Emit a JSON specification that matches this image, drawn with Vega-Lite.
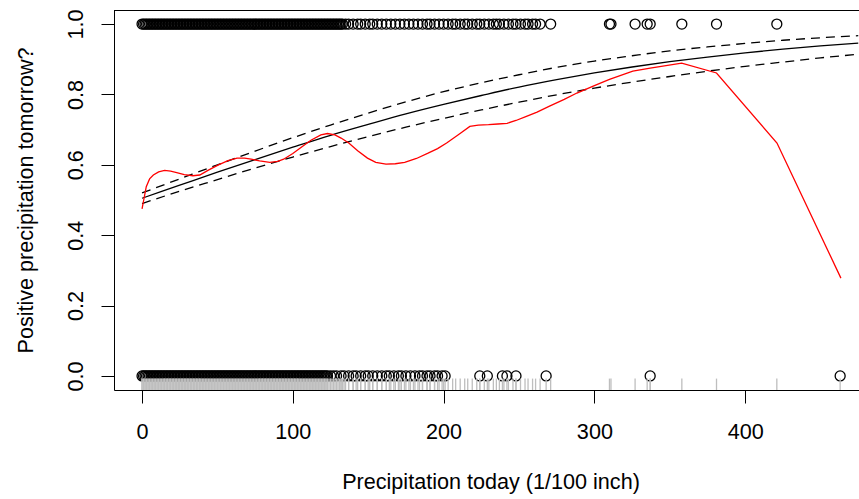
{
  "$schema": "https://vega.github.io/schema/vega-lite/v6.json",
  "width": 745,
  "height": 380,
  "autosize": {"type": "none"},
  "padding": {"left": 114, "top": 10, "right": 0, "bottom": 109},
  "background": "white",
  "datasets": {
    "pts": [
      {"x":0,"y":1},{"x":1,"y":1},{"x":2,"y":1},{"x":3,"y":1},{"x":4,"y":1},{"x":5,"y":1},{"x":6,"y":1},{"x":7,"y":1},{"x":8,"y":1},{"x":9,"y":1},
      {"x":10,"y":1},{"x":11,"y":1},{"x":12,"y":1},{"x":13,"y":1},{"x":14,"y":1},{"x":15,"y":1},{"x":16,"y":1},{"x":17,"y":1},{"x":18,"y":1},{"x":19,"y":1},
      {"x":20,"y":1},{"x":21,"y":1},{"x":22,"y":1},{"x":23,"y":1},{"x":24,"y":1},{"x":25,"y":1},{"x":26,"y":1},{"x":27,"y":1},{"x":28,"y":1},{"x":29,"y":1},
      {"x":30,"y":1},{"x":31,"y":1},{"x":32,"y":1},{"x":33,"y":1},{"x":34,"y":1},{"x":35,"y":1},{"x":36,"y":1},{"x":37,"y":1},{"x":38,"y":1},{"x":39,"y":1},
      {"x":40,"y":1},{"x":41,"y":1},{"x":42,"y":1},{"x":43,"y":1},{"x":44,"y":1},{"x":45,"y":1},{"x":46,"y":1},{"x":47,"y":1},{"x":48,"y":1},{"x":49,"y":1},
      {"x":50,"y":1},{"x":51,"y":1},{"x":52,"y":1},{"x":53,"y":1},{"x":54,"y":1},{"x":55,"y":1},{"x":56,"y":1},{"x":57,"y":1},{"x":58,"y":1},{"x":59,"y":1},
      {"x":60,"y":1},{"x":61,"y":1},{"x":62,"y":1},{"x":63,"y":1},{"x":64,"y":1},{"x":65,"y":1},{"x":66,"y":1},{"x":67,"y":1},{"x":68,"y":1},{"x":69,"y":1},
      {"x":70,"y":1},{"x":71,"y":1},{"x":72,"y":1},{"x":73,"y":1},{"x":74,"y":1},{"x":75,"y":1},{"x":76,"y":1},{"x":77,"y":1},{"x":78,"y":1},{"x":79,"y":1},
      {"x":80,"y":1},{"x":81,"y":1},{"x":82,"y":1},{"x":83,"y":1},{"x":84,"y":1},{"x":85,"y":1},{"x":86,"y":1},{"x":87,"y":1},{"x":88,"y":1},{"x":89,"y":1},
      {"x":90,"y":1},{"x":91,"y":1},{"x":92,"y":1},{"x":93,"y":1},{"x":94,"y":1},{"x":95,"y":1},{"x":96,"y":1},{"x":97,"y":1},{"x":98,"y":1},{"x":99,"y":1},
      {"x":100,"y":1},{"x":101,"y":1},{"x":102,"y":1},{"x":103,"y":1},{"x":104,"y":1},{"x":105,"y":1},{"x":106,"y":1},{"x":107,"y":1},{"x":108,"y":1},{"x":109,"y":1},
      {"x":110,"y":1},{"x":111,"y":1},{"x":112,"y":1},{"x":113,"y":1},{"x":114,"y":1},{"x":115,"y":1},{"x":116,"y":1},{"x":117,"y":1},{"x":118,"y":1},{"x":119,"y":1},
      {"x":120,"y":1},{"x":121,"y":1},{"x":122,"y":1},{"x":123,"y":1},{"x":124,"y":1},{"x":125,"y":1},{"x":126,"y":1},{"x":127,"y":1},{"x":128,"y":1},{"x":129,"y":1},
      {"x":130,"y":1},{"x":131,"y":1},{"x":132,"y":1},{"x":133,"y":1},
      {"x":135,"y":1},{"x":137,"y":1},{"x":140,"y":1},{"x":143,"y":1},{"x":145,"y":1},{"x":148,"y":1},{"x":151,"y":1},{"x":153,"y":1},{"x":156,"y":1},{"x":159,"y":1},
      {"x":162,"y":1},{"x":165,"y":1},{"x":168,"y":1},{"x":171,"y":1},{"x":174,"y":1},{"x":177,"y":1},{"x":180,"y":1},{"x":183,"y":1},{"x":186,"y":1},{"x":189,"y":1},
      {"x":191,"y":1},{"x":194,"y":1},{"x":197,"y":1},{"x":200,"y":1},{"x":203,"y":1},{"x":206,"y":1},{"x":208,"y":1},{"x":211,"y":1},{"x":214,"y":1},{"x":216,"y":1},
      {"x":219,"y":1},{"x":222,"y":1},{"x":224,"y":1},{"x":227,"y":1},{"x":230,"y":1},{"x":233,"y":1},{"x":235,"y":1},{"x":237,"y":1},{"x":240,"y":1},{"x":243,"y":1},
      {"x":246,"y":1},{"x":248,"y":1},{"x":251,"y":1},{"x":254,"y":1},{"x":256,"y":1},{"x":259,"y":1},{"x":261,"y":1},{"x":264,"y":1},{"x":271,"y":1},
      {"x":310,"y":1},{"x":311,"y":1},{"x":327,"y":1},{"x":335,"y":1},{"x":337,"y":1},{"x":358,"y":1},{"x":381,"y":1},{"x":421,"y":1},
      {"x":0,"y":0},{"x":1,"y":0},{"x":2,"y":0},{"x":3,"y":0},{"x":4,"y":0},{"x":5,"y":0},{"x":6,"y":0},{"x":7,"y":0},{"x":8,"y":0},{"x":9,"y":0},
      {"x":10,"y":0},{"x":11,"y":0},{"x":12,"y":0},{"x":13,"y":0},{"x":14,"y":0},{"x":15,"y":0},{"x":16,"y":0},{"x":17,"y":0},{"x":18,"y":0},{"x":19,"y":0},
      {"x":20,"y":0},{"x":21,"y":0},{"x":22,"y":0},{"x":23,"y":0},{"x":24,"y":0},{"x":25,"y":0},{"x":26,"y":0},{"x":27,"y":0},{"x":28,"y":0},{"x":29,"y":0},
      {"x":30,"y":0},{"x":31,"y":0},{"x":32,"y":0},{"x":33,"y":0},{"x":34,"y":0},{"x":35,"y":0},{"x":36,"y":0},{"x":37,"y":0},{"x":38,"y":0},{"x":39,"y":0},
      {"x":40,"y":0},{"x":41,"y":0},{"x":42,"y":0},{"x":43,"y":0},{"x":44,"y":0},{"x":45,"y":0},{"x":46,"y":0},{"x":47,"y":0},{"x":48,"y":0},{"x":49,"y":0},
      {"x":50,"y":0},{"x":51,"y":0},{"x":52,"y":0},{"x":53,"y":0},{"x":54,"y":0},{"x":55,"y":0},{"x":56,"y":0},{"x":57,"y":0},{"x":58,"y":0},{"x":59,"y":0},
      {"x":60,"y":0},{"x":61,"y":0},{"x":62,"y":0},{"x":63,"y":0},{"x":64,"y":0},{"x":65,"y":0},{"x":66,"y":0},{"x":67,"y":0},{"x":68,"y":0},{"x":69,"y":0},
      {"x":70,"y":0},{"x":71,"y":0},{"x":72,"y":0},{"x":73,"y":0},{"x":74,"y":0},{"x":75,"y":0},{"x":76,"y":0},{"x":77,"y":0},{"x":78,"y":0},{"x":79,"y":0},
      {"x":80,"y":0},{"x":81,"y":0},{"x":82,"y":0},{"x":83,"y":0},{"x":84,"y":0},{"x":85,"y":0},{"x":86,"y":0},{"x":87,"y":0},{"x":88,"y":0},{"x":89,"y":0},
      {"x":90,"y":0},{"x":91,"y":0},{"x":92,"y":0},{"x":93,"y":0},{"x":94,"y":0},{"x":95,"y":0},{"x":96,"y":0},{"x":97,"y":0},{"x":98,"y":0},{"x":99,"y":0},
      {"x":100,"y":0},{"x":101,"y":0},{"x":102,"y":0},{"x":103,"y":0},{"x":104,"y":0},{"x":105,"y":0},{"x":106,"y":0},{"x":107,"y":0},{"x":108,"y":0},{"x":109,"y":0},
      {"x":110,"y":0},{"x":111,"y":0},{"x":112,"y":0},{"x":113,"y":0},{"x":114,"y":0},{"x":115,"y":0},{"x":116,"y":0},{"x":117,"y":0},{"x":118,"y":0},{"x":119,"y":0},
      {"x":120,"y":0},{"x":121,"y":0},{"x":122,"y":0},{"x":123,"y":0},
      {"x":125,"y":0},{"x":127,"y":0},{"x":129,"y":0},{"x":132,"y":0},{"x":134,"y":0},{"x":137,"y":0},{"x":140,"y":0},{"x":142,"y":0},{"x":145,"y":0},{"x":148,"y":0},
      {"x":150,"y":0},{"x":153,"y":0},{"x":156,"y":0},{"x":159,"y":0},{"x":162,"y":0},{"x":164,"y":0},{"x":167,"y":0},{"x":170,"y":0},{"x":172,"y":0},{"x":175,"y":0},
      {"x":178,"y":0},{"x":181,"y":0},{"x":184,"y":0},{"x":186,"y":0},{"x":189,"y":0},{"x":191,"y":0},{"x":194,"y":0},{"x":196,"y":0},{"x":199,"y":0},{"x":201,"y":0},
      {"x":224,"y":0},{"x":229,"y":0},{"x":239,"y":0},{"x":242,"y":0},{"x":248,"y":0},{"x":268,"y":0},{"x":337,"y":0},{"x":463,"y":0}
    ],
    "fit": [
      {"x":0,"fit":0.505,"lo":0.490,"hi":0.520},
      {"x":25,"fit":0.542,"lo":0.525,"hi":0.560},
      {"x":50,"fit":0.579,"lo":0.558,"hi":0.600},
      {"x":75,"fit":0.615,"lo":0.591,"hi":0.639},
      {"x":100,"fit":0.650,"lo":0.622,"hi":0.677},
      {"x":125,"fit":0.684,"lo":0.652,"hi":0.713},
      {"x":150,"fit":0.715,"lo":0.680,"hi":0.747},
      {"x":175,"fit":0.745,"lo":0.707,"hi":0.779},
      {"x":200,"fit":0.772,"lo":0.732,"hi":0.808},
      {"x":225,"fit":0.797,"lo":0.756,"hi":0.833},
      {"x":250,"fit":0.821,"lo":0.778,"hi":0.856},
      {"x":275,"fit":0.842,"lo":0.799,"hi":0.877},
      {"x":300,"fit":0.861,"lo":0.818,"hi":0.895},
      {"x":325,"fit":0.878,"lo":0.835,"hi":0.910},
      {"x":350,"fit":0.893,"lo":0.851,"hi":0.924},
      {"x":375,"fit":0.906,"lo":0.866,"hi":0.935},
      {"x":400,"fit":0.918,"lo":0.880,"hi":0.945},
      {"x":425,"fit":0.929,"lo":0.892,"hi":0.954},
      {"x":450,"fit":0.938,"lo":0.904,"hi":0.961},
      {"x":475,"fit":0.946,"lo":0.914,"hi":0.967}
    ],
    "smooth": [
      {"x":0,"p":0.475},{"x":2.8,"p":0.538},{"x":5,"p":0.560},{"x":7.5,"p":0.571},{"x":11,"p":0.580},
      {"x":15,"p":0.584},{"x":19,"p":0.582},{"x":23,"p":0.578},{"x":28,"p":0.572},{"x":33.7,"p":0.569},
      {"x":38.3,"p":0.571},{"x":44,"p":0.585},{"x":50.7,"p":0.600},{"x":57,"p":0.612},{"x":63,"p":0.619},
      {"x":68,"p":0.619},{"x":72.3,"p":0.616},{"x":78,"p":0.611},{"x":84.7,"p":0.607},{"x":90,"p":0.610},
      {"x":93.9,"p":0.616},{"x":100,"p":0.632},{"x":106.3,"p":0.652},{"x":112,"p":0.670},{"x":118.6,"p":0.685},
      {"x":123,"p":0.689},{"x":127.9,"p":0.685},{"x":132,"p":0.676},{"x":137.1,"p":0.662},{"x":143,"p":0.640},
      {"x":149.5,"p":0.619},{"x":155,"p":0.607},{"x":161.8,"p":0.602},{"x":168,"p":0.603},{"x":174.2,"p":0.607},
      {"x":182,"p":0.618},{"x":189.7,"p":0.633},{"x":196,"p":0.646},{"x":202,"p":0.662},{"x":210,"p":0.686},
      {"x":217.4,"p":0.709},{"x":223,"p":0.713},{"x":229.8,"p":0.714},{"x":236,"p":0.716},{"x":242.1,"p":0.718},
      {"x":248,"p":0.726},{"x":254.5,"p":0.737},{"x":262,"p":0.750},{"x":269.9,"p":0.766},{"x":280,"p":0.786},
      {"x":288.4,"p":0.804},{"x":300,"p":0.825},{"x":310,"p":0.843},{"x":325.5,"p":0.866},{"x":337,"p":0.875},
      {"x":357.9,"p":0.889},{"x":381,"p":0.861},{"x":421.1,"p":0.662},{"x":463.5,"p":0.278}
    ]
  },
  "layer": [
    {
      "data": {"name": "pts"},
      "mark": {"type": "point", "shape": "circle", "filled": false, "color": "black", "opacity": 1, "size": 100, "strokeWidth": 1.3},
      "encoding": {
        "x": {"field": "x", "type": "quantitative", "title": "Precipitation today (1/100 inch)",
              "scale": {"domain": [-18.6, 475.5], "nice": false, "zero": false},
              "axis": {"values": [0, 100, 200, 300, 400],
                       "titleX": 376.5, "titleY": 98, "titleBaseline": "alphabetic", "titleAlign": "center",
                       "labelBaseline": "top", "labelPadding": 18, "labelFlush": false, "labelOverlap": false}},
        "y": {"field": "y", "type": "quantitative", "title": "Positive precipitation tomorrow?",
              "scale": {"domain": [-0.04, 1.04], "nice": false, "zero": false},
              "axis": {"values": [0, 0.2, 0.4, 0.6, 0.8, 1], "format": ".1f",
                       "labelAngle": 270, "labelAlign": "center", "labelBaseline": "alphabetic", "labelPadding": 19,
                       "titleAngle": 270, "titleX": -82, "titleY": 190, "titleAlign": "center", "titleBaseline": "alphabetic"}}
      }
    },
    {
      "data": {"name": "pts"},
      "mark": {"type": "rule", "color": "#BEBEBE", "strokeWidth": 1.3},
      "encoding": {
        "x": {"field": "x", "type": "quantitative", "title": "Precipitation today (1/100 inch)"},
        "y": {"datum": -0.04, "title": "Positive precipitation tomorrow?"},
        "y2": {"datum": -0.0076}
      }
    },
    {
      "data": {"values": [{"top": 1.04}]},
      "mark": {"type": "rule", "color": "black", "strokeWidth": 1, "yOffset": 0.5},
      "encoding": {
        "y": {"field": "top", "type": "quantitative", "title": "Positive precipitation tomorrow?"}
      }
    },
    {
      "data": {"name": "fit"},
      "mark": {"type": "line", "color": "black", "strokeWidth": 1.3, "interpolate": "monotone", "clip": true},
      "encoding": {
        "x": {"field": "x", "type": "quantitative", "title": "Precipitation today (1/100 inch)"},
        "y": {"field": "fit", "type": "quantitative", "title": "Positive precipitation tomorrow?"}
      }
    },
    {
      "data": {"name": "fit"},
      "mark": {"type": "line", "color": "black", "strokeWidth": 1.3, "strokeDash": [9, 6], "interpolate": "monotone", "clip": true},
      "encoding": {
        "x": {"field": "x", "type": "quantitative", "title": "Precipitation today (1/100 inch)"},
        "y": {"field": "lo", "type": "quantitative", "title": "Positive precipitation tomorrow?"}
      }
    },
    {
      "data": {"name": "fit"},
      "mark": {"type": "line", "color": "black", "strokeWidth": 1.3, "strokeDash": [9, 6], "interpolate": "monotone", "clip": true},
      "encoding": {
        "x": {"field": "x", "type": "quantitative", "title": "Precipitation today (1/100 inch)"},
        "y": {"field": "hi", "type": "quantitative", "title": "Positive precipitation tomorrow?"}
      }
    },
    {
      "data": {"name": "smooth"},
      "mark": {"type": "line", "color": "#FF0000", "strokeWidth": 1.3, "clip": true},
      "encoding": {
        "x": {"field": "x", "type": "quantitative", "title": "Precipitation today (1/100 inch)"},
        "y": {"field": "p", "type": "quantitative", "title": "Positive precipitation tomorrow?"}
      }
    }
  ],
  "config": {
    "view": {"stroke": null},
    "font": "Liberation Sans",
    "axis": {
      "grid": false,
      "domainColor": "black", "domainWidth": 1,
      "tickColor": "black", "tickWidth": 1, "tickSize": 13,
      "labelFont": "Liberation Sans", "labelFontSize": 21.6, "labelColor": "black",
      "titleFont": "Liberation Sans", "titleFontSize": 21.6, "titleColor": "black", "titleFontWeight": "normal"
    }
  }
}
